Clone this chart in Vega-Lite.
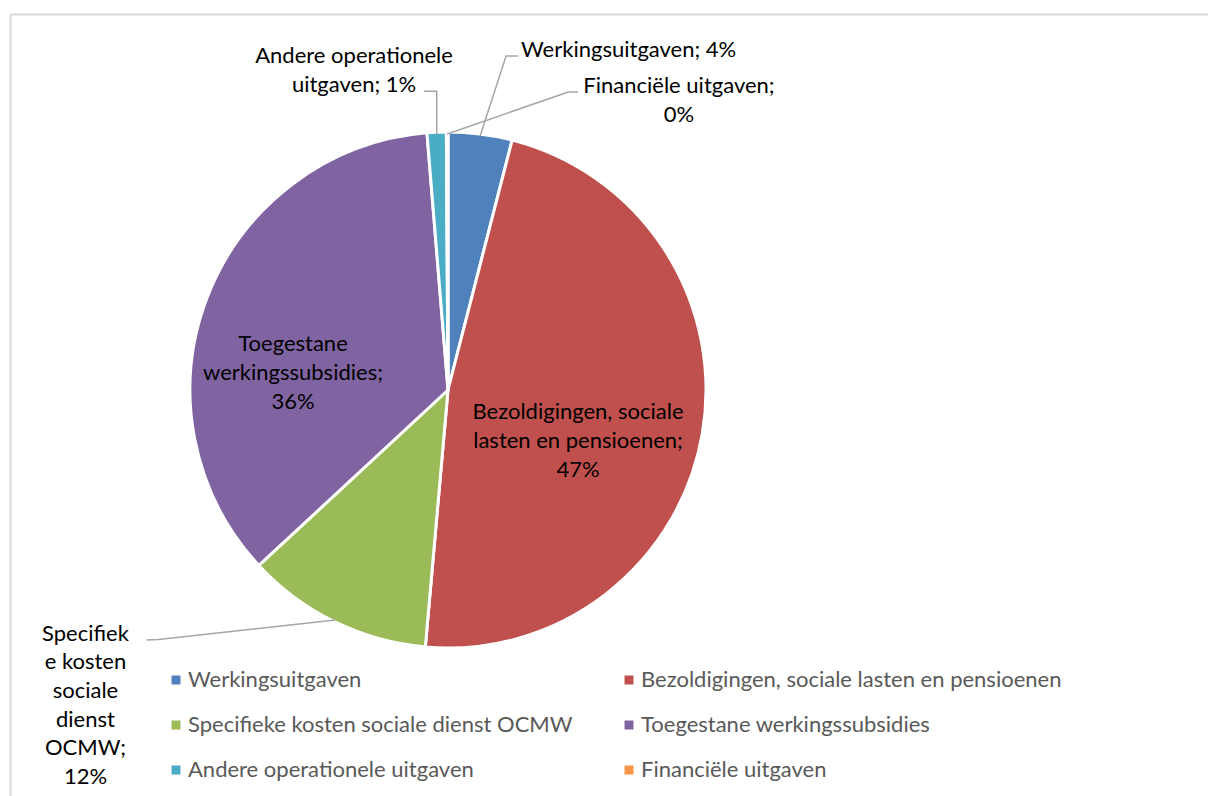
{
  "$schema": "https://vega.github.io/schema/vega-lite/v6.json",
  "autosize": {"type": "none"},
  "width": 876,
  "height": 752,
  "padding": {"left": 10, "top": 14, "right": 322, "bottom": 30},
  "background": "white",
  "config": {
    "font": "Lato",
    "view": {"stroke": null}
  },
  "data": {
    "values": [
      {"categorie": "Werkingsuitgaven", "aandeel": 0.040, "volgorde": 1, "etiket": "Werkingsuitgaven; "},
      {"categorie": "Bezoldigingen, sociale lasten en pensioenen", "aandeel": 0.474, "volgorde": 2, "etiket": "Bezoldigingen, sociale|lasten en pensioenen;|"},
      {"categorie": "Specifieke kosten sociale dienst OCMW", "aandeel": 0.117, "volgorde": 3, "etiket": "Specifiek|e kosten|sociale|dienst|OCMW;|"},
      {"categorie": "Toegestane werkingssubsidies", "aandeel": 0.356, "volgorde": 4, "etiket": "Toegestane|werkingssubsidies;|"},
      {"categorie": "Andere operationele uitgaven", "aandeel": 0.012, "volgorde": 5, "etiket": "Andere operationele|uitgaven; "},
      {"categorie": "Financiële uitgaven", "aandeel": 0.001, "volgorde": 6, "etiket": "Financiële uitgaven;|"}
    ]
  },
  "transform": [
    {"window": [{"op": "sum", "field": "aandeel", "as": "eind"}], "sort": [{"field": "volgorde"}], "frame": [null, 0]},
    {"calculate": "datum.eind - datum.aandeel", "as": "start"},
    {"calculate": "PI * (datum.start + datum.eind)", "as": "hoek"},
    {"calculate": "256 * sin(datum.hoek)", "as": "px"},
    {"calculate": "-256 * cos(datum.hoek)", "as": "py"},
    {"calculate": "split(datum.etiket + format(datum.aandeel, '.0%'), '|')", "as": "regels"}
  ],
  "layer": [
    {
      "mark": {"type": "arc", "outerRadius": 258, "stroke": "white", "strokeWidth": 3},
      "encoding": {
        "theta": {"field": "start", "type": "quantitative", "scale": {"domain": [0, 1]}},
        "theta2": {"field": "eind"},
        "color": {
          "field": "categorie",
          "type": "nominal",
          "scale": {
            "domain": ["Werkingsuitgaven", "Bezoldigingen, sociale lasten en pensioenen", "Specifieke kosten sociale dienst OCMW", "Toegestane werkingssubsidies", "Andere operationele uitgaven", "Financiële uitgaven"],
            "range": ["#4f81bd", "#c0504d", "#9bbb59", "#8064a2", "#4bacc6", "#f79646"]
          },
          "legend": {
            "title": null,
            "orient": "none",
            "legendX": 155,
            "legendY": 655,
            "direction": "horizontal",
            "columns": 2,
            "gridAlign": "all",
            "columnPadding": 9,
            "rowPadding": 23,
            "padding": 0,
            "symbolType": "square",
            "symbolSize": 81,
            "symbolStrokeWidth": 0,
            "labelFont": "Lato",
            "labelFontSize": 22,
            "labelColor": "#595959",
            "labelOffset": 1,
            "labelLimit": 600
          }
        }
      }
    },
    {
      "encoding": {
        "x": {
          "field": "px", "type": "quantitative",
          "scale": {"domain": [-438, 762], "range": [0, 1200], "zero": false, "nice": false},
          "axis": {"orient": "top", "title": null, "labels": false, "ticks": false, "grid": false, "domain": true, "domainColor": "#d9d9d9", "domainWidth": 2}
        },
        "y": {
          "field": "py", "type": "quantitative",
          "scale": {"domain": [-376, 424], "range": [0, 800], "zero": false, "nice": false},
          "axis": {"orient": "left", "title": null, "labels": false, "ticks": false, "grid": false, "domain": true, "domainColor": "#d9d9d9", "domainWidth": 2}
        }
      },
      "layer": [
        {
          "transform": [
            {"filter": "datum.categorie === 'Werkingsuitgaven'"},
            {"calculate": "[datum.px, datum.px + 26, datum.px + 38]", "as": "px"},
            {"calculate": "[datum.py, datum.py - 80, datum.py - 80]", "as": "py"},
            {"calculate": "[0, 1, 2]", "as": "stap"},
            {"flatten": ["px", "py", "stap"]}
          ],
          "mark": {"type": "line", "color": "#a6a6a6", "strokeWidth": 1.5},
          "encoding": {"order": {"field": "stap", "type": "quantitative"}}
        },
        {
          "transform": [
            {"filter": "datum.categorie === 'Financiële uitgaven'"},
            {"calculate": "[datum.px, datum.px + 121, datum.px + 131]", "as": "px"},
            {"calculate": "[datum.py, datum.py - 42, datum.py - 42]", "as": "py"},
            {"calculate": "[0, 1, 2]", "as": "stap"},
            {"flatten": ["px", "py", "stap"]}
          ],
          "mark": {"type": "line", "color": "#a6a6a6", "strokeWidth": 1.5},
          "encoding": {"order": {"field": "stap", "type": "quantitative"}}
        },
        {
          "transform": [
            {"filter": "datum.categorie === 'Andere operationele uitgaven'"},
            {"calculate": "[datum.px, datum.px, datum.px - 13]", "as": "px"},
            {"calculate": "[datum.py, datum.py - 43, datum.py - 43]", "as": "py"},
            {"calculate": "[0, 1, 2]", "as": "stap"},
            {"flatten": ["px", "py", "stap"]}
          ],
          "mark": {"type": "line", "color": "#a6a6a6", "strokeWidth": 1.5},
          "encoding": {"order": {"field": "stap", "type": "quantitative"}}
        },
        {
          "transform": [
            {"filter": "datum.categorie === 'Specifieke kosten sociale dienst OCMW'"},
            {"calculate": "[datum.px, datum.px - 177, datum.px - 189]", "as": "px"},
            {"calculate": "[datum.py, datum.py + 19.6, datum.py + 20]", "as": "py"},
            {"calculate": "[0, 1, 2]", "as": "stap"},
            {"flatten": ["px", "py", "stap"]}
          ],
          "mark": {"type": "line", "color": "#a6a6a6", "strokeWidth": 1.5},
          "encoding": {"order": {"field": "stap", "type": "quantitative"}}
        },
        {
          "transform": [{"filter": "datum.categorie === 'Werkingsuitgaven'"}],
          "mark": {"type": "text", "align": "left", "baseline": "alphabetic", "dx": 41, "dy": -79.5, "lineHeight": 28.7, "fontSize": 22, "color": "#000000"},
          "encoding": {"text": {"field": "regels"}}
        },
        {
          "transform": [{"filter": "datum.categorie === 'Financiële uitgaven'"}],
          "mark": {"type": "text", "align": "center", "baseline": "alphabetic", "dx": 231.8, "dy": -40.7, "lineHeight": 28.4, "fontSize": 22, "color": "#000000"},
          "encoding": {"text": {"field": "regels"}}
        },
        {
          "transform": [{"filter": "datum.categorie === 'Andere operationele uitgaven'"}],
          "mark": {"type": "text", "align": "center", "baseline": "alphabetic", "dx": -82.7, "dy": -70.9, "lineHeight": 29, "fontSize": 22, "color": "#000000"},
          "encoding": {"text": {"field": "regels"}}
        },
        {
          "transform": [{"filter": "datum.categorie === 'Specifieke kosten sociale dienst OCMW'"}],
          "mark": {"type": "text", "align": "center", "baseline": "alphabetic", "dx": -249.9, "dy": 20.8, "lineHeight": 28.7, "fontSize": 22, "color": "#000000"},
          "encoding": {"text": {"field": "regels"}}
        },
        {
          "transform": [{"filter": "datum.categorie === 'Toegestane werkingssubsidies'"}],
          "mark": {"type": "text", "align": "center", "baseline": "alphabetic", "dx": 83.6, "dy": 53.7, "lineHeight": 29, "fontSize": 22, "color": "#000000"},
          "encoding": {"text": {"field": "regels"}}
        },
        {
          "transform": [{"filter": "datum.categorie === 'Bezoldigingen, sociale lasten en pensioenen'"}],
          "mark": {"type": "text", "align": "center", "baseline": "alphabetic", "dx": -122.3, "dy": -13.9, "lineHeight": 28.7, "fontSize": 22, "color": "#000000"},
          "encoding": {"text": {"field": "regels"}}
        }
      ]
    }
  ]
}
